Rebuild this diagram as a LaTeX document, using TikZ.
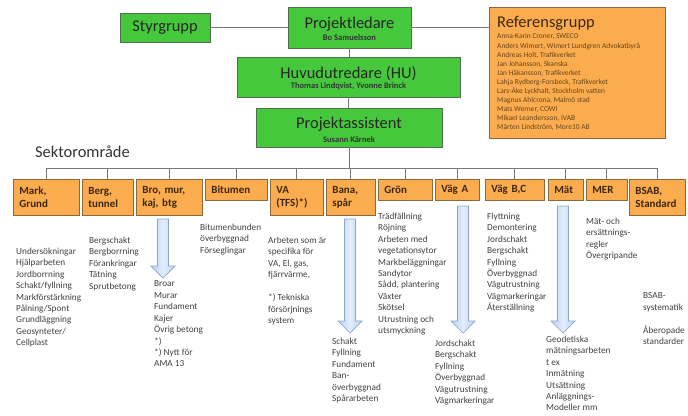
\documentclass[tikz,border=0pt]{standalone}
\usepackage{fontspec}
\setmainfont{Carlito}

\definecolor{grbox}{RGB}{70,200,60}
\definecolor{grline}{RGB}{80,110,80}
\definecolor{orbox}{RGB}{250,172,78}
\definecolor{orline}{RGB}{140,105,60}
\definecolor{ortext}{RGB}{60,38,15}
\definecolor{reftext}{RGB}{105,70,25}
\definecolor{lineg}{RGB}{120,120,120}
\definecolor{coltext}{RGB}{65,65,65}
\definecolor{arrfill}{RGB}{185,208,240}
\definecolor{arrmid}{RGB}{228,238,252}
\definecolor{arrline}{RGB}{140,165,205}

\tikzset{
  gbox/.style={draw=grline, fill=grbox, line width=0.8bp, inner sep=0},
  gtitle/.style={font=\fontsize{16.5}{18}\selectfont, text=black!85, inner sep=0},
  gsub/.style={font=\fontsize{8.5}{10}\selectfont\bfseries, text=black!80, inner sep=0},
  obox/.style={draw=orline, fill=orbox, line width=0.8bp, anchor=north west, inner xsep=6bp, inner ysep=0, minimum height=21bp, align=left, font=\fontsize{11}{13.5}\selectfont\bfseries, text=ortext},
  tallbox/.style={minimum height=36bp},
  coltxt/.style={anchor=north west, inner sep=0, align=left, font=\fontsize{9.3}{11.5}\selectfont, text=coltext},
  conn/.style={draw=lineg, line width=0.9bp},
  blockarrow/.style={draw=arrline, line width=0.7bp, left color=arrfill, right color=arrfill, middle color=arrmid}
}

\begin{document}
\begin{tikzpicture}[x=1bp, y=-1bp]
    \useasboundingbox (0,0) rectangle (688,415);

    % ledning
    \node[gbox, minimum width=90bp, minimum height=29bp] (styr) at (165,27.5) {};
    \node[gtitle] (styr-t) at (165,27.5) {Styrgrupp};

    \node[gbox, minimum width=123bp, minimum height=41bp] (pl) at (349.5,27.5) {};
    \node[gtitle] (pl-t) at (349.5,24) {Projektledare};
    \node[gsub] (pl-s) at (349.5,38) {Bo Samuelsson};

    \node[gbox, minimum width=223bp, minimum height=40bp] (hu) at (348.5,77) {};
    \node[gtitle] (hu-t) at (348.5,73.5) {Huvudutredare (HU)};
    \node[gsub] (hu-s) at (348.5,86) {Thomas Lindqvist, Yvonne Brinck};

    \node[gbox, minimum width=186bp, minimum height=39bp] (pa) at (349,127.5) {};
    \node[gtitle] (pa-t) at (349,124.5) {Projektassistent};
    \node[gsub] (pa-s) at (349,140) {Susann Kärnek};

    % referensgrupp
    \node[draw=orline, fill=orbox, line width=0.8bp, minimum width=176bp, minimum height=131bp, inner sep=0] (ref) at (577,72.5) {};
    \node[anchor=west, inner sep=0, font=\fontsize{16.5}{18}\selectfont, text=ortext] (ref-t) at (497,23) {Referensgrupp};
    \node[anchor=north west, inner sep=0, align=left, font=\fontsize{7.5}{9.1}\selectfont, text=reftext] (ref-n) at (497,33.6) {Anna-Karin Croner, SWECO\\Anders Wimert, Wimert Lundgren Advokatbyrå\\Andreas Holt, Trafikverket\\Jan Johansson, Skanska\\Jan Håkansson, Trafikverket\\Lahja Rydberg-Forsbeck, Trafikverket\\Lars-Åke Lyckhalt, Stockholm vatten\\Magnus Ahlcrona, Malmö stad\\Mats Werner, COWI\\Mikael Leandersson, IVAB\\Mårten Lindström, More10 AB};

    \node[anchor=base west, inner sep=0, font=\fontsize{16.5}{18}\selectfont, text=black!80] (sektor) at (35,157) {Sektorområde};

    % sektorer
    \node[obox, tallbox, text width=54bp] (mark) at (13,179) {Mark,\\Grund};
    \node[obox, tallbox, text width=39bp] (berg) at (82,179) {Berg,\\tunnel};
    \node[obox, tallbox, text width=54bp] (bro) at (136,179) {Bro, mur,\\kaj, btg};
    \node[obox, text width=50bp] (bitumen) at (205,179) {Bitumen};
    \node[obox, tallbox, text width=41bp] (va) at (270,179) {VA\\(TFS)*)};
    \node[obox, tallbox, text width=37bp] (bana) at (326,179) {Bana,\\spår};
    \node[obox, text width=42bp] (gron) at (378,179) {Grön};
    \node[obox, text width=32bp] (vaga) at (435,179) {Väg A};
    \node[obox, text width=47bp] (vagbc) at (485,179) {Väg B,C};
    \node[obox, text width=23bp] (mat) at (548,179) {Mät};
    \node[obox, text width=29bp] (mer) at (586,179) {MER};
    \node[obox, tallbox, text width=44bp] (bsab) at (629,179) {BSAB,\\Standard};

    % innehall
    \node[coltxt] (mark-t) at (16,247.6) {Undersökningar\\Hjälparbeten\\Jordborrning\\Schakt/fyllning\\Markförstärkning\\Pålning/Spont\\Grundläggning\\Geosynteter/\\Cellplast};
    \node[coltxt] (berg-t) at (89,236.6) {Bergschakt\\Bergborrning\\Förankringar\\Tätning\\Sprutbetong};
    \node[coltxt] (bro-t) at (154,280.6) {Broar\\Murar\\Fundament\\Kajer\\Övrig betong\\{}*)\\{}*) Nytt för\\AMA 13};
    \node[coltxt] (bitumen-t) at (200,223.6) {Bitumenbunden\\överbyggnad\\Förseglingar};
    \node[coltxt] (va-t) at (268,236.6) {Arbeten som är\\specifika för\\VA, El, gas,\\fjärrvärme,\\[11.5bp]{}*) Tekniska\\försörjnings\\system};
    \node[coltxt] (bana-t) at (332,337.6) {Schakt\\Fyllning\\Fundament\\Ban-\\överbyggnad\\Spårarbeten};
    \node[coltxt] (gron-t) at (378,212.6) {Trädfällning\\Röjning\\Arbeten med\\vegetationsytor\\Markbeläggningar\\Sandytor\\Sådd, plantering\\Växter\\Skötsel\\Utrustning och\\utsmyckning};
    \node[coltxt] (vaga-t) at (435,339.6) {Jordschakt\\Bergschakt\\Fyllning\\Överbyggnad\\Vägutrustning\\Vägmarkeringar};
    \node[coltxt] (vagbc-t) at (487,212.6) {Flyttning\\Demontering\\Jordschakt\\Bergschakt\\Fyllning\\Överbyggnad\\Vägutrustning\\Vägmarkeringar\\Återställning};
    \node[coltxt] (mat-t) at (546,335.6) {Geodetiska\\mätningsarbeten\\t ex\\Inmätning\\Utsättning\\Anläggnings-\\Modeller mm};
    \node[coltxt] (mer-t) at (586,217.6) {Mät- och\\ersättnings-\\regler\\Övergripande};
    \node[coltxt] (bsab-t) at (643,292.6) {BSAB-\\systematik\\[11.5bp]Åberopade\\standarder};

    % pilar
    \foreach \cx/\ytop/\ytip in {163/219/278, 350/219/333, 463/206/333, 563/206/333}
        \draw[blockarrow] ({\cx-5.5},\ytop) -- ({\cx+5.5},\ytop) -- ({\cx+5.5},{\ytip-12}) -- ({\cx+12},{\ytip-12}) -- (\cx,\ytip) -- ({\cx-12},{\ytip-12}) -- ({\cx-5.5},{\ytip-12}) -- cycle;

    % linjer
    \coordinate (bus) at (0,168);
    \draw[conn] (styr) -- (pl);
    \draw[conn] (pl) -- (pl -| ref.west);
    \draw[conn] (pl.south) -- (pl.south |- hu.north);
    \draw[conn] (hu.south) -- (hu.south |- pa.north);
    \draw[conn] (pa.south) -- (pa.south |- bus);
    \draw[conn] (mark.north |- bus) -- (bsab.north |- bus);
    \foreach \b in {mark,berg,bro,bitumen,va,bana,gron,vaga,vagbc,mat,mer,bsab}
        \draw[conn] (\b.north) -- (\b.north |- bus);
\end{tikzpicture}
\end{document}
